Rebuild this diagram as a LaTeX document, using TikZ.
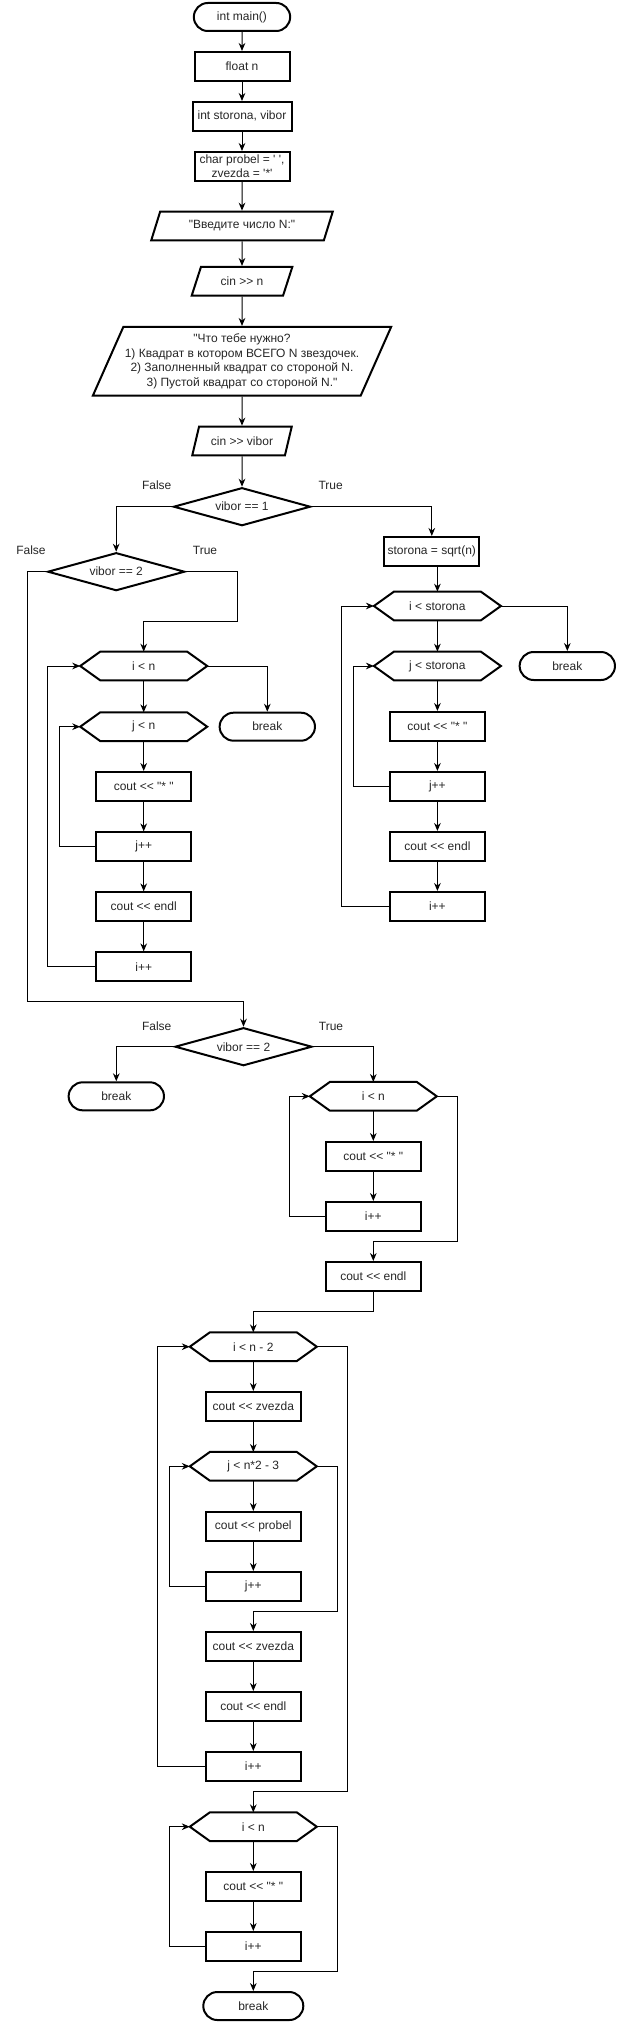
\documentclass[tikz,border=0pt]{standalone}
\usepackage{fontspec}
\newfontfamily\flowfont{Liberation Sans}
\usetikzlibrary{shapes.geometric,shapes.misc,arrows.meta}

\begin{document}
\begin{tikzpicture}[x=0.75pt,y=-0.75pt,
    every node/.style={font=\flowfont\fontsize{9}{10.8}\selectfont, text=black!85},
    procbox/.style={rectangle, draw=black, line width=1.5pt, minimum width=71.25pt, minimum height=21.5pt, inner sep=1pt, align=center},
    termbox/.style={rounded rectangle, draw=black, line width=1.5pt, minimum width=73.5pt, minimum height=21pt, inner sep=1pt},
    iobox/.style={trapezium, trapezium left angle=66, trapezium right angle=114, trapezium stretches=true, draw=black, line width=1.5pt, minimum height=21.5pt, inner sep=1pt, align=center},
    condbox/.style={diamond, aspect=3.6, draw=black, line width=1.5pt, minimum width=102.75pt, minimum height=28.5pt, inner sep=0pt},
    loopbox/.style={rectangle, minimum width=95.25pt, minimum height=21.5pt, inner sep=0pt, outer sep=0pt},
    hexline/.style={draw=black, line width=1.5pt, line join=miter},
    flow/.style={-{Stealth[length=6pt,width=5pt]}, line width=0.75pt, draw=black}]
        \useasboundingbox (0,0) rectangle (619,2022);
        \node[termbox, minimum width=74.25pt] (start) at (242,17) {int main()};
        \node[procbox] (floatn) at (242,66.3) {float n};
        \node[procbox, minimum width=74.25pt] (intvars) at (242,116.3) {int storona, vibor};
        \node[procbox, inner sep=0pt] (charvars) at (242,166.3) {char probel = ' ',\\zvezda = '*'};
        \node[iobox, minimum width=136.5pt] (askn) at (242,226) {"Введите число N:"};
        \node[iobox, minimum width=75.75pt] (readn) at (242,281.3) {cin >> n};
        \node[iobox, minimum width=224pt, minimum height=51.5pt, trapezium left angle=62, trapezium right angle=118] (askmenu) at (242,361.3) {"Что тебе нужно?\\1) Квадрат в котором ВСЕГО N звездочек.\\2) Заполненный квадрат со стороной N.\\3) Пустой квадрат со стороной N."};
        \node[iobox, minimum width=75pt] (readvib) at (242,441) {cin >> vibor};
        \node[condbox] (vibfirst) at (242,506.7) {vibor == 1};
        \node (nofirst) at (156.7,485.7) {False};
        \node (yesfirst) at (330.7,485.7) {True};
        \node[condbox] (vibsecond) at (116.2,571.7) {vibor == 2};
        \node (nosecond) at (31,550.7) {False};
        \node (yessecond) at (205,550.7) {True};
        \node[procbox] (sqside) at (431.8,551.3) {storona = sqrt(n)};

        \node[loopbox] (loopia) at (143.7,666) {i < n};
        \node[loopbox] (loopja) at (143.7,726.7) {j < n};
        \node[procbox] (stara) at (143.7,786.3) {cout << "* "};
        \node[procbox] (incja) at (143.7,846.7) {j++};
        \node[procbox] (endla) at (143.7,906.7) {cout << endl};
        \node[procbox] (incia) at (143.7,966.7) {i++};
        \node[termbox] (breaka) at (267.3,726.7) {break};

        \node[loopbox] (loopib) at (437.4,606) {i < storona};
        \node[loopbox] (loopjb) at (437.4,666) {j < storona};
        \node[procbox] (starb) at (437.4,726.3) {cout << "* "};
        \node[procbox] (incjb) at (437.4,786.3) {j++};
        \node[procbox] (endlb) at (437.4,846.3) {cout << endl};
        \node[procbox] (incib) at (437.4,906.3) {i++};
        \node[termbox] (breakb) at (567.3,666) {break};

        \node[condbox] (vibthird) at (243.5,1046.7) {vibor == 2};
        \node (nothird) at (156.7,1026) {False};
        \node (yesthird) at (331,1026) {True};
        \node[termbox] (breakc) at (116.3,1096.3) {break};
        \node[loopbox] (loopic) at (373.3,1096.3) {i < n};
        \node[procbox] (starc) at (373.3,1156.3) {cout << "* "};
        \node[procbox] (incic) at (373.3,1216.3) {i++};
        \node[procbox] (endlc) at (373.3,1276.3) {cout << endl};

        \node[loopbox] (loopid) at (253.3,1346.7) {i < n - 2};
        \node[procbox] (zvezdaa) at (253.3,1406.3) {cout << zvezda};
        \node[loopbox] (loopjd) at (253.3,1466.3) {j < n*2 - 3};
        \node[procbox] (probel) at (253.3,1526.3) {cout << probel};
        \node[procbox] (incjd) at (253.3,1586.3) {j++};
        \node[procbox] (zvezdab) at (253.3,1646.3) {cout << zvezda};
        \node[procbox] (endld) at (253.3,1706.3) {cout << endl};
        \node[procbox] (incid) at (253.3,1766.3) {i++};
        \node[loopbox] (loopie) at (253.3,1826.7) {i < n};
        \node[procbox] (stare) at (253.3,1886.3) {cout << "* "};
        \node[procbox] (incie) at (253.3,1946.3) {i++};
        \node[termbox, minimum width=77pt] (breake) at (253.3,2006) {break};

        \foreach \h in {loopia,loopja,loopib,loopjb,loopic,loopid,loopjd,loopie}
          \draw[hexline] ([xshift=15pt]\h.north west) -- ([xshift=-15pt]\h.north east) -- (\h.east) -- ([xshift=-15pt]\h.south east) -- ([xshift=15pt]\h.south west) -- (\h.west) -- cycle;

        \draw[flow] (start) -- (floatn);
        \draw[flow] (floatn) -- (intvars);
        \draw[flow] (intvars) -- (charvars);
        \draw[flow] (charvars) -- (askn);
        \draw[flow] (askn) -- (readn);
        \draw[flow] (readn) -- (askmenu);
        \draw[flow] (askmenu) -- (readvib);
        \draw[flow] (readvib) -- (vibfirst);
        \draw[flow] (vibfirst.west) -| (vibsecond.north);
        \draw[flow] (vibfirst.east) -| (sqside.north);
        \draw[flow] (vibsecond.east) -| (237.3,621) -| (loopia.north);
        \draw[flow] (vibsecond.west) -| (27.3,1001) -| (vibthird.north);

        \draw[flow] (loopia) -- (loopja);
        \draw[flow] (loopja) -- (stara);
        \draw[flow] (stara) -- (incja);
        \draw[flow] (incja) -- (endla);
        \draw[flow] (endla) -- (incia);
        \draw[flow] (loopia.east) -| (breaka.north);
        \draw[flow] (incja.west) -| (59.3,726.7) -- (loopja.west);
        \draw[flow] (incia.west) -| (47.7,666) -- (loopia.west);

        \draw[flow] (sqside.south -| loopib.north) -- (loopib.north);
        \draw[flow] (loopib) -- (loopjb);
        \draw[flow] (loopjb) -- (starb);
        \draw[flow] (starb) -- (incjb);
        \draw[flow] (incjb) -- (endlb);
        \draw[flow] (endlb) -- (incib);
        \draw[flow] (loopib.east) -| (breakb.north);
        \draw[flow] (incjb.west) -| (353.3,666) -- (loopjb.west);
        \draw[flow] (incib.west) -| (341.7,606) -- (loopib.west);

        \draw[flow] (vibthird.west) -| (breakc.north);
        \draw[flow] (vibthird.east) -| (loopic.north);
        \draw[flow] (loopic) -- (starc);
        \draw[flow] (starc) -- (incic);
        \draw[flow] (incic.west) -| (289.3,1096.3) -- (loopic.west);
        \draw[flow] (loopic.east) -| (457.3,1241) -| (endlc.north);
        \draw[flow] (endlc.south) |- (253.3,1311) -- (loopid.north);

        \draw[flow] (loopid) -- (zvezdaa);
        \draw[flow] (zvezdaa) -- (loopjd);
        \draw[flow] (loopjd) -- (probel);
        \draw[flow] (probel) -- (incjd);
        \draw[flow] (incjd.west) -| (169.3,1466.3) -- (loopjd.west);
        \draw[flow] (loopjd.east) -| (337.3,1611) -| (zvezdab.north);
        \draw[flow] (zvezdab) -- (endld);
        \draw[flow] (endld) -- (incid);
        \draw[flow] (incid.west) -| (157.7,1346.7) -- (loopid.west);
        \draw[flow] (loopid.east) -| (347.3,1791) -| (loopie.north);
        \draw[flow] (loopie) -- (stare);
        \draw[flow] (stare) -- (incie);
        \draw[flow] (incie.west) -| (169.3,1826.7) -- (loopie.west);
        \draw[flow] (loopie.east) -| (337.3,1971) -| (breake.north);
      \end{tikzpicture}
\end{document}
